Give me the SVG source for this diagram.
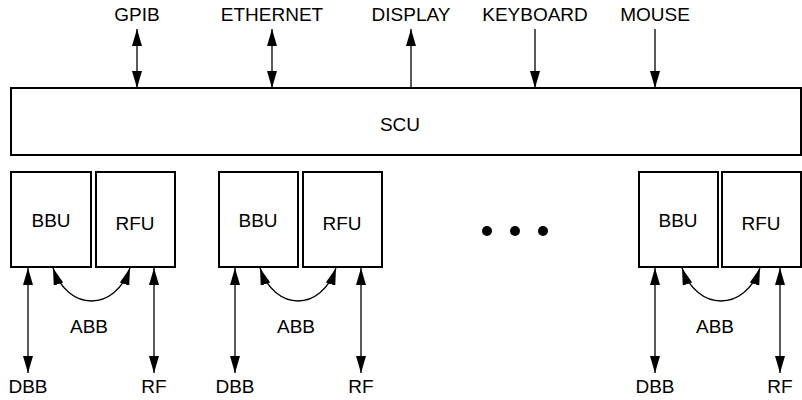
<svg xmlns="http://www.w3.org/2000/svg" width="802" height="400" viewBox="0 0 802 400">
<style>
text{font-family:"Liberation Sans",Arial,sans-serif;font-size:19px;fill:#000;text-anchor:middle}
.box{fill:#fff;stroke:#000;stroke-width:2}
.ln{fill:none;stroke:#000;stroke-width:1.3}
</style>
<defs>
<marker id="ah" viewBox="0 0 17 10" refX="17" refY="5" markerWidth="17" markerHeight="10" markerUnits="userSpaceOnUse" orient="auto-start-reverse">
<path d="M0,0 L17,5 L0,10 z" fill="#000"/>
</marker>
</defs>
<rect width="802" height="400" fill="#fff"/>
<g id="labels-top">
<text x="137" y="21">GPIB</text>
<text x="272" y="21">ETHERNET</text>
<text x="411" y="21">DISPLAY</text>
<text x="535" y="21">KEYBOARD</text>
<text x="655" y="21">MOUSE</text>
</g>
<g id="scu"><rect class="box" x="11" y="88" width="790" height="67"/><text x="400" y="131">SCU</text></g>
<g id="bbu1"><rect class="box" x="11" y="172" width="80" height="95"/><text x="51" y="227">BBU</text></g>
<g id="rfu1"><rect class="box" x="96" y="172" width="79" height="95"/><text x="135" y="230">RFU</text></g>
<g id="bbu2"><rect class="box" x="219" y="172" width="79" height="95"/><text x="258" y="227">BBU</text></g>
<g id="rfu2"><rect class="box" x="303" y="172" width="79" height="95"/><text x="342" y="230">RFU</text></g>
<g id="bbu3"><rect class="box" x="639" y="172" width="79" height="95"/><text x="678" y="227">BBU</text></g>
<g id="rfu3"><rect class="box" x="722" y="172" width="79" height="95"/><text x="761" y="230">RFU</text></g>
<g id="ellipsis"><circle cx="487" cy="231" r="5"/><circle cx="515" cy="231" r="5"/><circle cx="543" cy="231" r="5"/></g>
<g id="labels-bottom">
<text x="89" y="333">ABB</text><text x="28" y="393">DBB</text><text x="154" y="393">RF</text>
<text x="296" y="333">ABB</text><text x="235" y="393">DBB</text><text x="361" y="393">RF</text>
<text x="715" y="333">ABB</text><text x="655" y="393">DBB</text><text x="780" y="393">RF</text>
</g>
<g id="connectors">
<line class="ln" x1="137" y1="29" x2="137" y2="88" marker-start="url(#ah)" marker-end="url(#ah)"/>
<line class="ln" x1="272" y1="29" x2="272" y2="88" marker-start="url(#ah)" marker-end="url(#ah)"/>
<line class="ln" x1="411" y1="88" x2="411" y2="29" marker-end="url(#ah)"/>
<line class="ln" x1="535" y1="29" x2="535" y2="88" marker-end="url(#ah)"/>
<line class="ln" x1="655" y1="29" x2="655" y2="88" marker-end="url(#ah)"/>
<line class="ln" x1="28" y1="268" x2="28" y2="373" marker-start="url(#ah)" marker-end="url(#ah)"/>
<line class="ln" x1="154" y1="268" x2="154" y2="373" marker-start="url(#ah)" marker-end="url(#ah)"/>
<path class="ln" d="M53,268 C68,312 115,312 130,268" marker-start="url(#ah)" marker-end="url(#ah)"/>
<line class="ln" x1="235" y1="268" x2="235" y2="373" marker-start="url(#ah)" marker-end="url(#ah)"/>
<line class="ln" x1="361" y1="268" x2="361" y2="373" marker-start="url(#ah)" marker-end="url(#ah)"/>
<path class="ln" d="M260,268 C275,312 321,312 336,268" marker-start="url(#ah)" marker-end="url(#ah)"/>
<line class="ln" x1="655" y1="268" x2="655" y2="373" marker-start="url(#ah)" marker-end="url(#ah)"/>
<line class="ln" x1="780" y1="268" x2="780" y2="373" marker-start="url(#ah)" marker-end="url(#ah)"/>
<path class="ln" d="M682,268 C697,312 745,312 760,268" marker-start="url(#ah)" marker-end="url(#ah)"/>
</g>
</svg>
